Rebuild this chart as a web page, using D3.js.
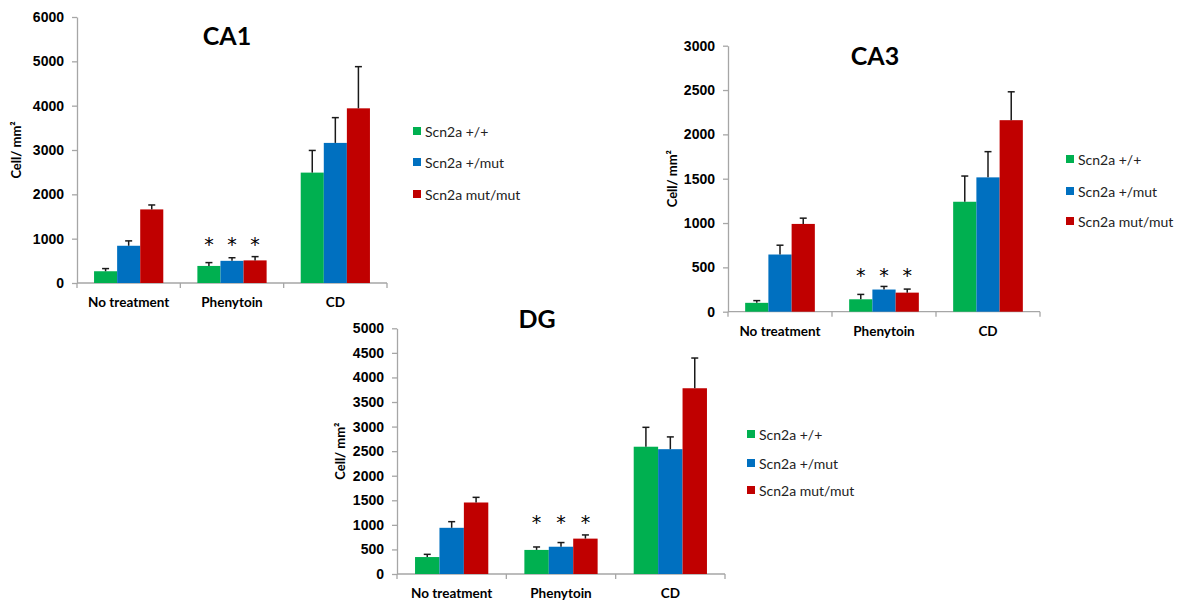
<!DOCTYPE html>
<html>
<head>
<meta charset="utf-8">
<script src="https://cdn.jsdelivr.net/npm/d3@7"></script>
<style>
  body { margin: 0; background: #fff; }
  svg { display: block; font-family: Lato, "Open Sans", sans-serif; }
</style>
</head>
<body>
<svg id="fig" width="1184" height="602"></svg>
<script>
// categories and genotypes
var categories = ["No treatment", "Phenytoin", "CD"];
var genotypes = ["Scn2a +/+", "Scn2a +/mut", "Scn2a mut/mut"];
var colors = ["#00b050", "#0070c0", "#c00000"];

// CA1 means / SEM, one row per category, one column per genotype
var ca1Values = [[265, 840, 1660], [385, 500, 510], [2490, 3160, 3940]];
var ca1Errors = [[60, 110, 100], [75, 70, 85], [500, 570, 940]];
var ca1Ticks = [0, 1000, 2000, 3000, 4000, 5000, 6000];

// CA3
var ca3Values = [[100, 645, 990], [140, 250, 215], [1240, 1515, 2160]];
var ca3Errors = [[25, 105, 65], [55, 35, 40], [290, 290, 320]];
var ca3Ticks = [0, 500, 1000, 1500, 2000, 2500, 3000];

// DG
var dgValues = [[345, 940, 1455], [490, 555, 720], [2590, 2540, 3780]];
var dgErrors = [[55, 125, 105], [60, 85, 75], [395, 250, 615]];
var dgTicks = [0, 500, 1000, 1500, 2000, 2500, 3000, 3500, 4000, 4500, 5000];

// stars over phenytoin group
var starCategory = "Phenytoin";

var svg = d3.select("#fig");

drawPanel({
  title: "CA1", left: 77, right: 387, top: 17, bottom: 283,
  ticks: ca1Ticks, values: ca1Values, errors: ca1Errors, starAt: 1000,
  titleX: 227, titleY: 35, yLabelX: 16,
  legendX: 413, legendY: [131, 162, 194]
});

drawPanel({
  title: "CA3", left: 728, right: 1040, top: 45.7, bottom: 311.7,
  ticks: ca3Ticks, values: ca3Values, errors: ca3Errors, starAt: 470,
  titleX: 875, titleY: 55, yLabelX: 672,
  legendX: 1066, legendY: [159, 191, 221]
});

drawPanel({
  title: "DG", left: 397, right: 725, top: 328.3, bottom: 574,
  ticks: dgTicks, values: dgValues, errors: dgErrors, starAt: 1170,
  titleX: 537, titleY: 318, yLabelX: 340,
  legendX: 747, legendY: [434, 463, 490]
});

function drawPanel(o) {
  var g = svg.append("g").attr("class", "panel");

  var y = d3.scaleLinear()
    .domain([0, d3.max(o.ticks)])
    .range([o.bottom, o.top]);

  var x0 = d3.scaleBand()
    .domain(categories)
    .range([o.left, o.right])
    .paddingInner(0).paddingOuter(0);

  var bw = x0.bandwidth();
  var x1 = d3.scaleBand()
    .domain(genotypes)
    .range([bw * 0.165, bw * 0.835]);

  // y axis
  var yAxis = g.append("g")
    .attr("transform", "translate(" + o.left + ",0)")
    .call(d3.axisLeft(y).tickValues(o.ticks).tickFormat(d3.format("d"))
      .tickSize(5).tickSizeOuter(0).tickPadding(8));
  yAxis.select(".domain").attr("stroke", "#a6a6a6").attr("stroke-width", 1.3);
  yAxis.selectAll(".tick line").attr("stroke", "#a6a6a6").attr("stroke-width", 1.3);
  yAxis.selectAll(".tick text")
    .attr("fill", "#000").style("font-size", "14px").style("font-weight", "bold");

  // x axis line + category boundary ticks
  g.append("line")
    .attr("x1", o.left).attr("x2", o.right)
    .attr("y1", o.bottom).attr("y2", o.bottom)
    .attr("stroke", "#a6a6a6").attr("stroke-width", 1.3);

  var bounds = categories.map(function (c) { return x0(c); }).concat([o.right]);
  g.selectAll("line.xtick").data(bounds).enter().append("line")
    .attr("class", "xtick")
    .attr("x1", function (d) { return d; }).attr("x2", function (d) { return d; })
    .attr("y1", o.bottom).attr("y2", o.bottom + 5)
    .attr("stroke", "#a6a6a6").attr("stroke-width", 1.3);

  g.selectAll("text.xlab").data(categories).enter().append("text")
    .attr("class", "xlab")
    .attr("x", function (d) { return x0(d) + bw / 2; })
    .attr("y", o.bottom + 24)
    .attr("text-anchor", "middle")
    .style("font-size", "13.5px").style("font-weight", "bold")
    .text(function (d) { return d; });

  // bars
  var groups = g.selectAll("g.cat").data(categories).enter().append("g")
    .attr("class", "cat")
    .attr("transform", function (d) { return "translate(" + x0(d) + ",0)"; });

  groups.each(function (cat, ci) {
    var rows = genotypes.map(function (gt, gi) {
      return { gt: gt, gi: gi, v: o.values[ci][gi], e: o.errors[ci][gi] };
    });
    var cg = d3.select(this);

    cg.selectAll("rect").data(rows).enter().append("rect")
      .attr("x", function (d) { return x1(d.gt); })
      .attr("width", x1.bandwidth())
      .attr("y", function (d) { return y(d.v); })
      .attr("height", function (d) { return o.bottom - y(d.v); })
      .attr("fill", function (d) { return colors[d.gi]; });

    // upper error bar only
    cg.selectAll("line.err").data(rows).enter().append("line")
      .attr("class", "err")
      .attr("x1", function (d) { return x1(d.gt) + x1.bandwidth() / 2; })
      .attr("x2", function (d) { return x1(d.gt) + x1.bandwidth() / 2; })
      .attr("y1", function (d) { return y(d.v); })
      .attr("y2", function (d) { return y(d.v + d.e); })
      .attr("stroke", "#1a1a1a").attr("stroke-width", 1.5);

    cg.selectAll("line.cap").data(rows).enter().append("line")
      .attr("class", "cap")
      .attr("x1", function (d) { return x1(d.gt) + x1.bandwidth() / 2 - 3.5; })
      .attr("x2", function (d) { return x1(d.gt) + x1.bandwidth() / 2 + 3.5; })
      .attr("y1", function (d) { return y(d.v + d.e); })
      .attr("y2", function (d) { return y(d.v + d.e); })
      .attr("stroke", "#1a1a1a").attr("stroke-width", 1.5);

    if (cat === starCategory) {
      cg.selectAll("text.star").data(rows).enter().append("text")
        .attr("class", "star")
        .attr("x", function (d) { return x1(d.gt) + x1.bandwidth() / 2; })
        .attr("y", y(o.starAt) + 12)
        .attr("text-anchor", "middle")
        .attr("fill", "#000")
        .style("font-family", "'DejaVu Sans', sans-serif")
        .style("font-size", "19px")
        .text("*");
    }
  });

  // title
  g.append("text")
    .attr("x", o.titleX).attr("y", o.titleY)
    .attr("text-anchor", "middle").attr("dominant-baseline", "central")
    .style("font-size", "25px").style("font-weight", "bold")
    .text(o.title);

  // y label
  g.append("text")
    .attr("transform", "translate(" + o.yLabelX + "," + ((o.top + o.bottom) / 2) + ") rotate(-90)")
    .attr("text-anchor", "middle").attr("dominant-baseline", "central")
    .style("font-size", "13px").style("font-weight", "bold")
    .text("Cell/ mm²");

  // legend
  var leg = g.selectAll("g.leg").data(genotypes).enter().append("g")
    .attr("class", "leg")
    .attr("transform", function (d, i) { return "translate(" + o.legendX + "," + o.legendY[i] + ")"; });
  leg.append("rect")
    .attr("x", 0).attr("y", -4).attr("width", 8).attr("height", 8)
    .attr("fill", function (d, i) { return colors[i]; });
  leg.append("text")
    .attr("x", 12).attr("y", 0).attr("dominant-baseline", "central")
    .style("font-size", "14px").attr("fill", "#222")
    .text(function (d) { return d; });
}
</script>
</body>
</html>
